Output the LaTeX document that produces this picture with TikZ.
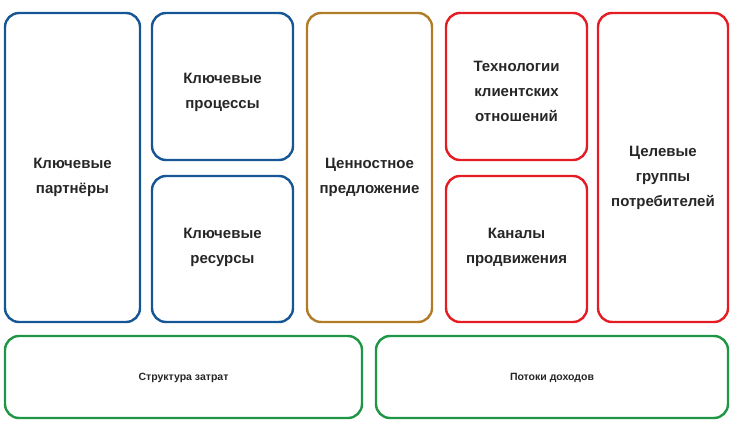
\documentclass[tikz,border=0pt]{standalone}
\usepackage{fontspec}
\setmainfont{Liberation Sans}
\definecolor{blockblue}{RGB}{22,86,150}
\definecolor{blockgold}{RGB}{176,124,40}
\definecolor{blockred}{RGB}{228,28,36}
\definecolor{blockgreen}{RGB}{30,150,70}
\tikzset{
  block/.style={draw, line width=2.4pt, rounded corners=14pt},
  infra/.style={block, draw=blockblue},
  offer/.style={block, draw=blockgold},
  client/.style={block, draw=blockred},
  money/.style={block, draw=blockgreen},
  caption/.style={align=center, inner sep=0pt, text=black!85,
    font=\fontsize{15}{25}\selectfont\bfseries},
  smallcaption/.style={caption, font=\fontsize{10.5}{12}\selectfont\bfseries}
}

\begin{document}
\begin{tikzpicture}[x=1pt,y=-1pt]
\useasboundingbox (0,0) rectangle (732,428);
% top row
\node[infra, minimum width=135pt, minimum height=309pt] (partners) at (72.5,167.5) {};
\node[infra, minimum width=141pt, minimum height=147pt] (processes) at (222.5,86.5) {};
\node[infra, minimum width=141pt, minimum height=146pt] (resources) at (222.5,249) {};
\node[offer, minimum width=125pt, minimum height=309pt] (value) at (369.5,167.5) {};
\node[client, minimum width=141pt, minimum height=147pt] (relations) at (516.5,86.5) {};
\node[client, minimum width=141pt, minimum height=146pt] (channels) at (516.5,249) {};
\node[client, minimum width=130pt, minimum height=309pt] (segments) at (663,167.5) {};
% bottom row
\node[money, minimum width=357pt, minimum height=82pt] (costs) at (183.5,377) {};
\node[money, minimum width=352pt, minimum height=82pt] (revenue) at (552,377) {};
% texts
\node[caption, yshift=-10pt] (partnersT) at (partners.center) {Ключевые\\партнёры};
\node[caption, yshift=-6pt] (processesT) at (processes.center) {Ключевые\\процессы};
\node[caption, yshift=2pt] (resourcesT) at (resources.center) {Ключевые\\ресурсы};
\node[caption, yshift=-10pt] (valueT) at (value.center) {Ценностное\\предложение};
\node[caption, yshift=-5pt] (relationsT) at (relations.center) {Технологии\\клиентских\\отношений};
\node[caption, yshift=2pt] (channelsT) at (channels.center) {Каналы\\продвижения};
\node[caption, yshift=-10pt] (segmentsT) at (segments.center) {Целевые\\группы\\потребителей};
\node[smallcaption, yshift=-1pt] (costsT) at (costs.center) {Структура затрат};
\node[smallcaption, yshift=-1pt] (revenueT) at (revenue.center) {Потоки доходов};
\end{tikzpicture}
\end{document}
